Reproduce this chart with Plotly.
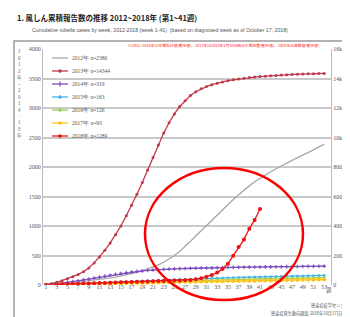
import plotly.graph_objects as go

weeks = list(range(1, 54))
weeks_2018 = list(range(1, 42))

cases_2012 = [5, 10, 18, 25, 33, 42, 50, 60, 70, 80, 92, 105, 120, 135, 152, 170, 190, 212, 238, 268,
              300, 340, 385, 440, 500, 570, 650, 740, 830, 920, 1010, 1100, 1190, 1280, 1370, 1450,
              1530, 1610, 1680, 1750, 1810, 1870, 1920, 1970, 2020, 2060, 2110, 2160, 2200, 2240,
              2290, 2340, 2386]
cases_2013 = [30, 90, 180, 290, 420, 560, 720, 900, 1150, 1500, 1900, 2350, 2850, 3400, 4000, 4700,
              5400, 6150, 6950, 7800, 8650, 9500, 10300, 11000, 11600, 12100, 12500, 12850, 13100,
              13300, 13450, 13580, 13680, 13770, 13850, 13910, 13970, 14020, 14060, 14100, 14130,
              14160, 14190, 14210, 14230, 14250, 14270, 14290, 14300, 14315, 14325, 14335, 14344]
cases_2014 = [5, 12, 22, 33, 45, 58, 72, 87, 102, 118, 134, 150, 166, 182, 196, 209, 221, 231, 240,
              248, 255, 261, 266, 270, 274, 277, 280, 283, 285, 287, 289, 291, 293, 295, 297, 299,
              300, 302, 303, 305, 306, 307, 308, 309, 310, 311, 312, 313, 314, 315, 316, 318, 319]
cases_2015 = [3, 6, 10, 13, 16, 19, 22, 26, 29, 32, 35, 39, 42, 46, 50, 54, 58, 62, 66, 70, 74, 78,
              82, 86, 90, 93, 96, 99, 102, 105, 108, 111, 114, 117, 120, 123, 126, 129, 132, 135,
              137, 139, 141, 143, 145, 147, 149, 151, 153, 156, 158, 161, 163]
cases_2016 = [2, 4, 7, 9, 11, 14, 16, 19, 21, 24, 27, 30, 33, 36, 39, 42, 45, 48, 51, 54, 57, 60, 63,
              66, 69, 71, 73, 76, 78, 80, 82, 84, 86, 88, 90, 92, 94, 96, 98, 100, 102, 104, 106,
              107, 109, 111, 113, 115, 117, 119, 121, 124, 126]
cases_2017 = [1, 3, 5, 7, 9, 11, 13, 15, 17, 19, 21, 23, 25, 27, 29, 31, 33, 35, 37, 39, 41, 43, 45,
              47, 49, 51, 53, 55, 57, 58, 60, 62, 63, 65, 66, 68, 69, 71, 72, 74, 75, 77, 78, 80,
              81, 83, 84, 86, 87, 89, 90, 92, 93]
cases_2018 = [3, 6, 9, 12, 15, 18, 21, 24, 27, 30, 33, 36, 39, 42, 45, 48, 51, 54, 57, 60, 63, 66,
              69, 72, 75, 78, 81, 84, 96, 115, 140, 170, 210, 273, 362, 496, 642, 770, 952, 1103, 1289]

series_names = ["2012年 n=2386", "2013年 n=14344", "2014年 n=319", "2015年 n=163",
                "2016年 n=126", "2017年 n=93", "2018年 n=1289"]
x_tick_vals = list(range(1, 54, 2))
left_ticks = list(range(0, 4001, 500))
right_ticks = list(range(0, 16001, 2000))
left_side_label = "2012年・2014-18年"
right_side_label = "2013年累積数"

colors = ["#a6a6a6", "#c0394b", "#7b4bbf", "#42b4e6", "#9bd35a", "#ffc21a", "#ee1111"]
marker_kinds = [None, "circle", "cross", "circle", "circle", "circle", "circle"]

W, H = 350, 317
L, R, T, B = 35, 323, 41, 277


def px(x):
    return (x - L) / (R - L)


def py(y):
    return (B - y) / (B - T)


fig = go.Figure()

fig.add_trace(go.Scatter(x=weeks, y=cases_2012, name=series_names[0], mode="lines",
                         line=dict(color=colors[0], width=1.3)))
fig.add_trace(go.Scatter(x=weeks, y=cases_2013, name=series_names[1], mode="lines+markers",
                         line=dict(color=colors[1], width=1.3),
                         marker=dict(size=3, color=colors[1]), yaxis="y2"))
fig.add_trace(go.Scatter(x=weeks, y=cases_2014, name=series_names[2], mode="lines+markers",
                         line=dict(color=colors[2], width=1.3),
                         marker=dict(size=3, color=colors[2], symbol="cross")))
fig.add_trace(go.Scatter(x=weeks, y=cases_2015, name=series_names[3], mode="lines+markers",
                         line=dict(color=colors[3], width=1.3),
                         marker=dict(size=3, color=colors[3])))
fig.add_trace(go.Scatter(x=weeks, y=cases_2016, name=series_names[4], mode="lines+markers",
                         line=dict(color=colors[4], width=1.3),
                         marker=dict(size=3, color=colors[4])))
fig.add_trace(go.Scatter(x=weeks, y=cases_2017, name=series_names[5], mode="lines+markers",
                         line=dict(color=colors[5], width=1.3),
                         marker=dict(size=4, color=colors[5])))
fig.add_trace(go.Scatter(x=weeks_2018, y=cases_2018, name=series_names[6], mode="lines+markers",
                         line=dict(color=colors[6], width=1.3),
                         marker=dict(size=4, color=colors[6])))

tick_font = dict(family="Liberation Serif", size=6, color="#555555")
jp = "Noto Sans CJK JP"

fig.update_layout(
    width=W, height=H,
    margin=dict(l=L, r=W - R, t=T, b=H - B),
    paper_bgcolor="white", plot_bgcolor="white",
    font=dict(family=jp, size=6, color="#444444"),
    showlegend=False,
    xaxis=dict(range=[0.44, 54.27], tickvals=x_tick_vals, tickfont=tick_font,
               showgrid=False, zeroline=False, showline=False, ticks="", ticklen=0,
               ticklabelstandoff=-3),
    yaxis=dict(range=[0, 4000], tickvals=left_ticks, tickfont=tick_font,
               showgrid=True, gridcolor="#c9c9c9", gridwidth=1.8, zeroline=False,
               showline=True, linecolor="#bbbbbb", linewidth=1, ticks=""),
    yaxis2=dict(range=[0, 16000], tickvals=right_ticks, tickfont=tick_font, overlaying="y",
                side="right", showgrid=False, zeroline=False,
                showline=True, linecolor="#bbbbbb", linewidth=1, ticks=""),
)

shapes = []
# outer frame
shapes.append(dict(type="rect", x0=px(6), x1=px(345), y0=py(312), y1=py(33),
                   line=dict(color="#9a9a9a", width=1.5), layer="below"))
# highlight ellipse
shapes.append(dict(type="circle", x0=px(137), x1=px(295), y0=py(292), y1=py(160),
                   line=dict(color="#ff0000", width=2.5)))

ann = []
# compact legend (drawn by hand so rows match the reference spacing)
for i, (name, col, mk) in enumerate(zip(series_names, colors, marker_kinds)):
    yy = 50 + i * 13
    shapes.append(dict(type="line", x0=px(44), x1=px(60), y0=py(yy), y1=py(yy),
                       line=dict(color=col, width=1.3)))
    if mk == "circle":
        shapes.append(dict(type="circle", x0=px(50.5), x1=px(53.5), y0=py(yy + 1.5), y1=py(yy - 1.5),
                           line=dict(color=col, width=0.5), fillcolor=col))
    elif mk == "cross":
        shapes.append(dict(type="line", x0=px(52), x1=px(52), y0=py(yy + 2.5), y1=py(yy - 2.5),
                           line=dict(color=col, width=1.2)))
    ann.append(dict(text=name, x=px(62), y=py(yy), xanchor="left", yanchor="middle",
                    font=dict(family="Liberation Serif", size=5.5, color="#555555")))

ann.append(dict(text="<b>1. 風しん累積報告数の推移 2012~2018年 (第1~41週)</b>",
                x=px(7), y=py(10), xanchor="left", yanchor="middle",
                font=dict(family=jp, size=7.5, color="#222222")))
ann.append(dict(text="Cumulative rubella cases by week, 2012-2018 (week 1-41)  (based on diagnosed week as of October 17, 2018)",
                x=px(22), y=py(22), xanchor="left", yanchor="middle",
                font=dict(family="Liberation Sans", size=5.2, color="#555555")))
ann.append(dict(text="※2012~2016年は年報集計値(確定値)、2017年は2018年1月10日時点の報告数(暫定値)、2018年は速報値(暫定値)",
                x=px(215), y=py(37), xanchor="center", yanchor="middle",
                font=dict(family=jp, size=3.8, color="#ff2020")))
ann.append(dict(text="週", x=px(321), y=py(282), xanchor="center", yanchor="middle",
                font=dict(family=jp, size=5.5, color="#555555")))
ann.append(dict(text="感染症疫学センター", x=px(343), y=py(297), xanchor="right", yanchor="middle",
                font=dict(family=jp, size=4.2, color="#555555")))
ann.append(dict(text="感染症発生動向調査 2018年10月17日現在", x=px(343), y=py(305), xanchor="right",
                yanchor="middle", font=dict(family=jp, size=4.2, color="#555555")))
# vertical (upright) side labels, one character per row
for k, ch in enumerate(left_side_label):
    ann.append(dict(text=ch, x=px(11), y=py(43 + k * 6.5), xanchor="center", yanchor="middle",
                    borderpad=0, font=dict(family=jp, size=4.6, color="#666666")))
for k, ch in enumerate(right_side_label):
    ann.append(dict(text=ch, x=px(344), y=py(43 + k * 6), xanchor="center", yanchor="middle",
                    borderpad=0, font=dict(family=jp, size=4, color="#666666")))
for a in ann:
    a.update(xref="paper", yref="paper", showarrow=False)
for s in shapes:
    s.update(xref="paper", yref="paper")
fig.update_layout(annotations=ann, shapes=shapes)

fig.write_html("out.html")
